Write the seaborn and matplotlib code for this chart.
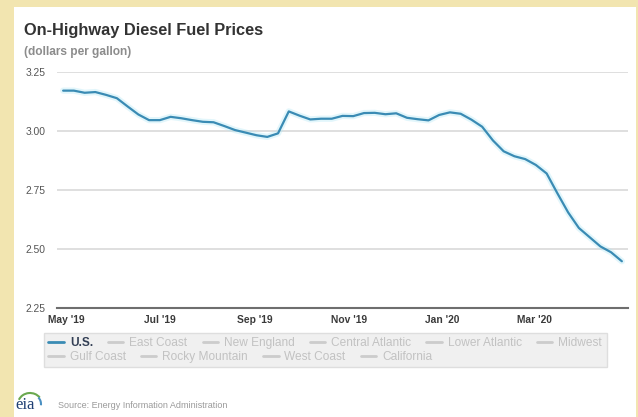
import numpy as np
import pandas as pd
import matplotlib
matplotlib.use("Agg")
import matplotlib.pyplot as plt
import matplotlib.dates as mdates
from matplotlib.patches import Rectangle, Arc
from matplotlib.lines import Line2D
import seaborn as sns

# ---- data -------------------------------------------------------------
start_week = "2019-04-29"
us_price = [3.171, 3.171, 3.162, 3.165, 3.153, 3.139, 3.104, 3.070, 3.046, 3.046,
            3.060, 3.054, 3.046, 3.039, 3.037, 3.021, 3.004, 2.993, 2.982, 2.975,
            2.990, 3.083, 3.065, 3.049, 3.052, 3.052, 3.064, 3.063, 3.076, 3.077,
            3.071, 3.075, 3.056, 3.050, 3.045, 3.068, 3.079, 3.073, 3.048, 3.018,
            2.960, 2.914, 2.893, 2.881, 2.856, 2.820, 2.736, 2.655, 2.589, 2.550,
            2.511, 2.486, 2.448]
y_ticks = [2.25, 2.50, 2.75, 3.00, 3.25]
y_tick_labels = ["2.25", "2.50", "2.75", "3.00", "3.25"]
x_tick_dates = ["2019-05-01", "2019-07-01", "2019-09-01", "2019-11-01", "2020-01-01", "2020-03-01"]
legend_row1 = ["U.S.", "East Coast", "New England", "Central Atlantic", "Lower Atlantic", "Midwest"]
legend_row2 = ["Gulf Coast", "Rocky Mountain", "West Coast", "California"]
title = "On-Highway Diesel Fuel Prices"
subtitle = "(dollars per gallon)"
source = "Source: Energy Information Administration"

weeks = pd.date_range(start_week, periods=len(us_price), freq="7D")
df = pd.DataFrame({"week": weeks, "price": us_price})

# ---- style ------------------------------------------------------------
sns.set_theme(style="white")
plt.rcParams["font.family"] = ["Liberation Sans", "DejaVu Sans"]

LINE = "#3a8bb4"
BG = "#f2e5b0"

W, H = 638, 417
fig = plt.figure(figsize=(W / 100, H / 100), dpi=100)
fig.patch.set_facecolor(BG)
fig.patches.append(Rectangle((14 / W, 0), (636 - 14) / W, 1 - 7 / H,
                             transform=fig.transFigure, facecolor="white",
                             edgecolor="none", zorder=-10))

ax = fig.add_axes([57 / W, 1 - 308 / H, (628 - 57) / W, (308 - 72) / H])
ax.set_zorder(5)
ax.set_facecolor("none")

# glow + line
sns.lineplot(data=df, x="week", y="price", ax=ax, color="#aee6f5", linewidth=4.5,
             alpha=0.35, legend=False)
sns.lineplot(data=df, x="week", y="price", ax=ax, color=LINE, linewidth=1.6,
             legend=False)

ax.set_xlim(pd.Timestamp("2019-04-25"), pd.Timestamp("2020-05-01"))
ax.set_ylim(2.25, 3.25)
ax.set_yticks(y_ticks)
ax.set_yticklabels(y_tick_labels)
ax.set_xticks(pd.to_datetime(x_tick_dates))
ax.xaxis.set_major_formatter(mdates.DateFormatter("%b '%y"))
ax.set_xlabel("")
ax.set_ylabel("")

for y in y_ticks[1:]:
    ax.axhline(y, color="#dcdcdc", linewidth=1.3, zorder=0.5)

for s in ["top", "right", "left"]:
    ax.spines[s].set_visible(False)
ax.spines["bottom"].set_color("#6e6e6e")
ax.spines["bottom"].set_linewidth(1.5)

ax.tick_params(axis="y", length=0, pad=8, labelsize=7.4, labelcolor="#555555")
ax.tick_params(axis="x", length=3.5, width=1, color="#888888", direction="out",
               pad=1.5, labelsize=7.4, labelcolor="#3a3a3a")
for lab in ax.get_xticklabels():
    lab.set_fontweight("bold")

# ---- titles -----------------------------------------------------------
fig.text(24 / W, 1 - 30 / H, title, fontsize=11.8, fontweight="bold",
         color="#333333", va="center", ha="left")
fig.text(24 / W, 1 - 52 / H, subtitle, fontsize=8.6, fontweight="bold",
         color="#8c8c8c", va="center", ha="left")

# ---- legend box -------------------------------------------------------
fig.patches.append(Rectangle((44 / W, 1 - 367 / H), (607 - 44) / W, (367 - 333) / H,
                             transform=fig.transFigure, facecolor="#f0f0f0",
                             edgecolor="#dedede", linewidth=1, zorder=1))

def handles_for(labels):
    hs = []
    for lab in labels:
        c = LINE if lab == "U.S." else "#cccccc"
        hs.append(Line2D([], [], color=c, linewidth=2))
    return hs

LEG_FS = 8.6
leg1 = fig.legend(handles_for(legend_row1), legend_row1, ncol=len(legend_row1),
                  loc="center left", bbox_to_anchor=(46 / W, 1 - 343 / H),
                  frameon=False, fontsize=LEG_FS, handlelength=1.3, handletextpad=0.5,
                  columnspacing=1.25, borderaxespad=0, borderpad=0.2)
for t in leg1.get_texts():
    if t.get_text() == "U.S.":
        t.set_color("#333f55")
        t.set_fontweight("bold")
    else:
        t.set_color("#c2c2c2")
leg2 = fig.legend(handles_for(legend_row2), legend_row2, ncol=len(legend_row2),
                  loc="center left", bbox_to_anchor=(46 / W, 1 - 357 / H),
                  frameon=False, fontsize=LEG_FS, handlelength=1.3, handletextpad=0.5,
                  columnspacing=1.25, borderaxespad=0, borderpad=0.2)
for t in leg2.get_texts():
    t.set_color("#c2c2c2")

# ---- footer -----------------------------------------------------------
fig.text(15 / W, 1 - 405 / H, "eia", fontsize=12, family=["Liberation Serif", "DejaVu Serif"],
         color="#1f3f73", va="center", ha="left")
fig.patches.append(Arc((30 / W, 1 - 404 / H), 24 / W, 22 / H, theta1=45, theta2=150,
                       transform=fig.transFigure, color="#6aa84f", linewidth=1.5))
fig.patches.append(Arc((30 / W, 1 - 404 / H), 22 / W, 20 / H, theta1=-10, theta2=50,
                       transform=fig.transFigure, color="#4a90c2", linewidth=1.5))
fig.text(58 / W, 1 - 406 / H, source, fontsize=6.5, color="#9a9a9a", va="center", ha="left")

fig.savefig("out.png", dpi=100, facecolor=BG)
